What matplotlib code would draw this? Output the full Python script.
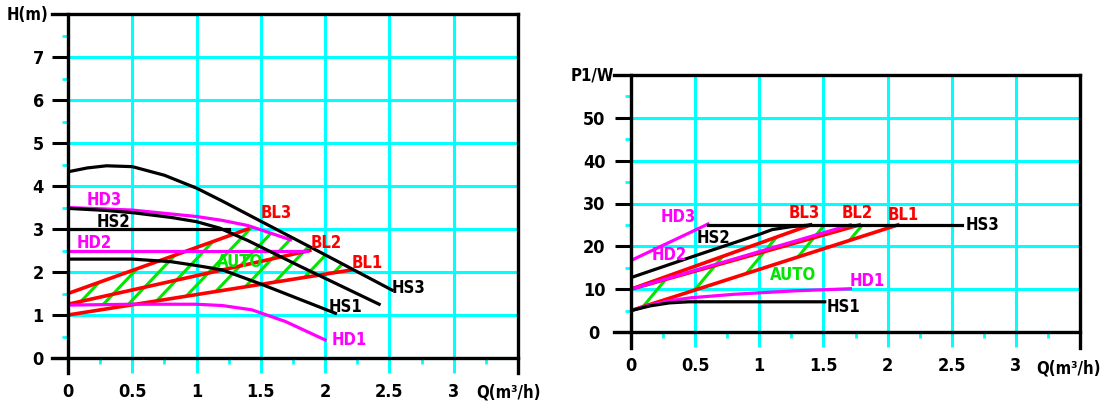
import numpy as np
import matplotlib.pyplot as plt

plt.rcParams['font.family'] = ['DejaVu Sans']
plt.rcParams['font.stretch'] = 'condensed'
plt.rcParams['font.weight'] = 'bold'

CYAN = '#00ffff'
MAG = '#ff00ff'
RED = '#ff0000'
GRN = '#00e600'

# ---- head curves H(m) vs Q(m3/h)
hs3_q = [0, 0.15, 0.3, 0.5, 0.75, 1.0, 1.2, 1.5, 2.0, 2.52]
hs3_h = [4.33, 4.42, 4.47, 4.45, 4.25, 3.95, 3.65, 3.18, 2.4, 1.58]
hs2_q = [0, 0.3, 0.5, 0.8, 1.0, 1.18, 1.4, 1.8, 2.42]
hs2_h = [3.48, 3.43, 3.38, 3.27, 3.17, 3.02, 2.73, 2.14, 1.25]
hs2f_q = [0, 1.25]
hs2f_h = [3.0, 3.0]
hs1_q = [0, 0.5, 0.8, 1.0, 1.2, 1.5, 2.08]
hs1_h = [2.3, 2.3, 2.24, 2.15, 2.05, 1.72, 1.04]
hd3_q = [0, 0.5, 1.0, 1.2, 1.4, 1.73]
hd3_h = [3.5, 3.44, 3.29, 3.2, 3.08, 2.75]
hd2_q = [0, 1.86]
hd2_h = [2.5, 2.5]
hd1_q = [0, 0.5, 1.0, 1.2, 1.43, 1.69, 2.0]
hd1_h = [1.23, 1.25, 1.25, 1.22, 1.12, 0.85, 0.42]
bl3_q, bl3_h = [0, 1.4], [1.5, 3.0]
bl2_q, bl2_h = [0, 1.88], [1.25, 2.5]
bl1_q, bl1_h = [0, 2.21], [1.0, 2.05]

# ---- power curves P1(W) vs Q(m3/h)
phs3_q, phs3_p = [0.6, 2.58], [25, 25]
phs2_q = [0, 0.5, 1.0, 1.1, 1.25, 1.4]
phs2_p = [12.7, 17.8, 22.8, 23.9, 24.6, 25]
phs1_q = [0, 0.15, 0.3, 0.45, 1.51]
phs1_p = [5, 6.1, 6.8, 7.05, 7.05]
phd3_q, phd3_p = [0, 0.6], [16.7, 25.2]
phd2_q, phd2_p = [0, 1.71], [10, 25]
phd1_q = [0, 0.15, 0.3, 0.47, 0.8, 1.27, 1.71]
phd1_p = [5, 6.3, 7.3, 8.0, 8.8, 9.6, 10.1]
pbl3_q, pbl3_p = [0, 1.4], [10, 25]
pbl2_q, pbl2_p = [0, 1.78], [10, 25]
pbl1_q, pbl1_p = [0, 2.08], [5, 25]

xticks = [0, 0.5, 1, 1.5, 2, 2.5, 3]
xlabels = ['0', '0.5', '1', '1.5', '2', '2.5', '3']


def frame(ax, ymax, ystep, dx, dy, ypad):
    ax.set_xlim(0, 3.5)
    ax.set_ylim(0, ymax)
    for s in ax.spines.values():
        s.set_visible(False)
    ax.set_xticks(xticks)
    ax.set_xticklabels(xlabels)
    ax.set_xticks(np.arange(0.25, 3.5, 0.5), minor=True)
    ax.set_yticks(np.arange(0, ymax, ystep))
    ax.set_yticks(np.arange(ystep / 2, ymax, ystep), minor=True)
    ax.grid(True, which='major', color=CYAN, lw=2.2)
    ax.tick_params(axis='x', which='major', length=11, width=2.2, color=CYAN, pad=7, labelsize=13)
    ax.tick_params(axis='x', which='minor', length=4.5, width=2, color=CYAN)
    ax.tick_params(axis='y', which='major', length=11.5, width=2.2, color='k', pad=ypad, labelsize=13)
    ax.tick_params(axis='y', which='minor', length=4.5, width=2, color=CYAN)
    for lbl in ax.get_yticklabels():
        lbl.set_horizontalalignment('center')
    k = dict(color='k', lw=2.4, clip_on=False, zorder=6, solid_capstyle='projecting')
    ax.plot([0, 0], [-dy, ymax], **k)
    ax.plot([3.5, 3.5], [-dy, ymax], **k)
    ax.plot([-dx, 3.5], [ymax, ymax], **k)
    ax.plot([-dx, 3.5], [0, 0], **k)


def hatch(ax, xg, lo, up, q0, v0, slope, step):
    body = ax.fill_between(xg, lo, up, where=up >= lo, interpolate=True,
                           facecolor='none', edgecolor='none')
    clip = body.get_paths()[0]
    for k in range(-15, 25):
        qa = q0 + k * step
        qs = np.array([qa - 3, qa + 3])
        ln, = ax.plot(qs, v0 + slope * (qs - qa), color=GRN, lw=2.2, zorder=2)
        ln.set_clip_path(clip, ax.transData)


fig = plt.figure(figsize=(11.05, 4.05), dpi=100)
axL = fig.add_axes([68 / 1105, 47 / 405, 450 / 1105, 344 / 405])
axR = fig.add_axes([631 / 1105, 73 / 405, 449 / 1105, 257 / 405])

frame(axL, 8, 1, 0.124, 0.35, 10)
frame(axR, 60, 10, 0.132, 3.7, 15)

# ---- left: head
xg = np.linspace(0, 2.3, 500)
lo = np.maximum(np.interp(xg, bl1_q, bl1_h), np.interp(xg, hd1_q, hd1_h))
cap = np.minimum(np.interp(xg, hs3_q, hs3_h), np.interp(xg, hd3_q, hd3_h, right=np.inf))
up = np.where(xg <= bl3_q[-1], np.interp(xg, bl3_q, bl3_h), cap)
hatch(axL, xg, lo, up, 0.08, 1.25, 3.15, 0.195)

lw = 2.3
for q, h in [(bl3_q, bl3_h), (bl2_q, bl2_h), (bl1_q, bl1_h)]:
    axL.plot(q, h, color=RED, lw=2.6, zorder=3)
for q, h in [(hd3_q, hd3_h), (hd2_q, hd2_h), (hd1_q, hd1_h)]:
    axL.plot(q, h, color=MAG, lw=lw, zorder=4)
for q, h in [(hs3_q, hs3_h), (hs2_q, hs2_h), (hs2f_q, hs2f_h), (hs1_q, hs1_h)]:
    axL.plot(q, h, color='k', lw=lw, zorder=5)

fs = 12
for txt, x, y, c in [('HD3', 0.28, 3.67, MAG), ('HS2', 0.35, 3.17, 'k'), ('HD2', 0.2, 2.67, MAG),
                     ('AUTO', 1.34, 2.23, GRN), ('BL3', 1.62, 3.37, RED), ('BL2', 2.01, 2.67, RED),
                     ('BL1', 2.33, 2.21, RED), ('HS3', 2.65, 1.63, 'k'), ('HS1', 2.16, 1.19, 'k'),
                     ('HD1', 2.19, 0.42, MAG)]:
    axL.text(x, y, txt, color=c, fontsize=fs, ha='center', va='center', zorder=7)

axL.text(-0.318, 7.98, 'H(m)', fontsize=12, ha='center', va='center', clip_on=False)
axL.text(3.43, -0.81, 'Q(m³/h)', fontsize=12, ha='center', va='center', clip_on=False)

# ---- right: power
xg = np.linspace(0, 2.3, 500)
lo = np.maximum(np.interp(xg, pbl1_q, pbl1_p), np.interp(xg, phd1_q, phd1_p))
up = np.where(xg <= pbl3_q[-1], np.interp(xg, pbl3_q, pbl3_p), np.interp(xg, phs3_q, phs3_p))
hatch(axR, xg, lo, up, 0.096, 6.0, 36.0, 0.295)

for q, p in [(pbl3_q, pbl3_p), (pbl2_q, pbl2_p), (pbl1_q, pbl1_p)]:
    axR.plot(q, p, color=RED, lw=2.6, zorder=3)
for q, p in [(phd3_q, phd3_p), (phd2_q, phd2_p), (phd1_q, phd1_p)]:
    axR.plot(q, p, color=MAG, lw=lw, zorder=4)
for q, p in [(phs3_q, phs3_p), (phs2_q, phs2_p), (phs1_q, phs1_p)]:
    axR.plot(q, p, color='k', lw=lw, zorder=5)

for txt, x, y, c in [('HD3', 0.37, 26.9, MAG), ('HS2', 0.64, 22.0, 'k'), ('HD2', 0.3, 18.0, MAG),
                     ('BL3', 1.35, 27.8, RED), ('BL2', 1.76, 27.8, RED), ('BL1', 2.12, 27.3, RED),
                     ('HS3', 2.74, 25.0, 'k'), ('AUTO', 1.26, 13.3, GRN), ('HD1', 1.84, 11.9, MAG),
                     ('HS1', 1.66, 5.8, 'k')]:
    axR.text(x, y, txt, color=c, fontsize=fs, ha='center', va='center', zorder=7)

axR.text(-0.303, 60.0, 'P1/W', fontsize=12, ha='center', va='center', clip_on=False)
axR.text(3.41, -8.6, 'Q(m³/h)', fontsize=12, ha='center', va='center', clip_on=False)

fig.savefig('out.png', dpi=100)
